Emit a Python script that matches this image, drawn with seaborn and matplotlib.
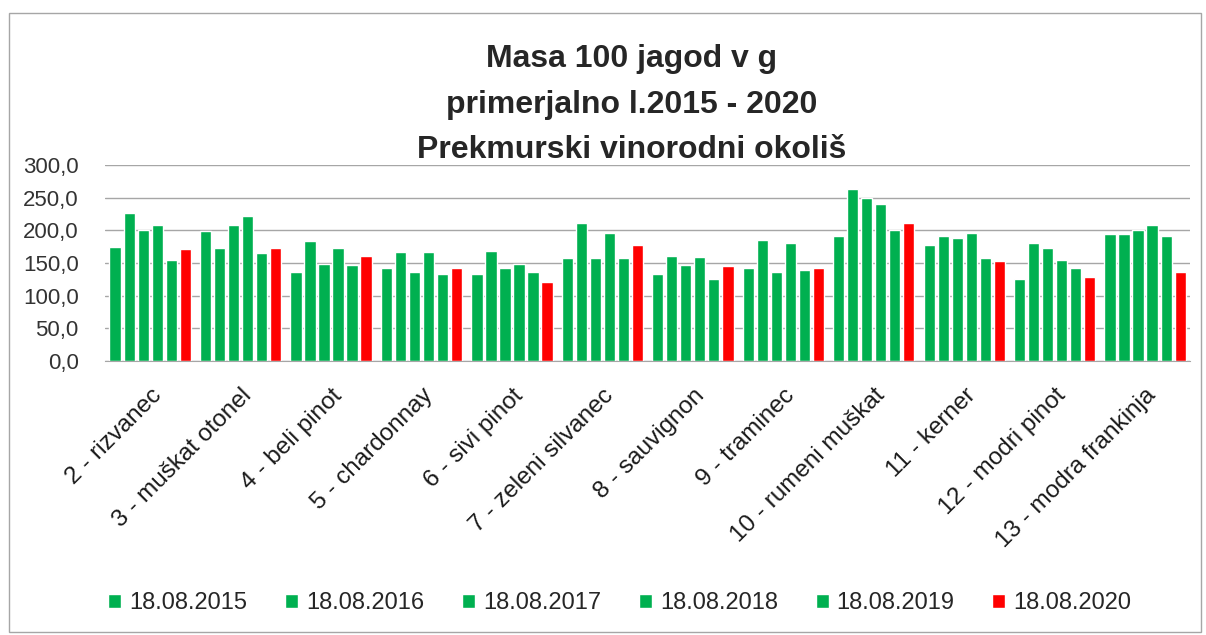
"""Masa 100 jagod v g - Prekmurski vinorodni okoliš, 2015-2020."""

import matplotlib.pyplot as plt
import pandas as pd
import seaborn as sns
from matplotlib.patches import Rectangle
from matplotlib.ticker import FuncFormatter, MultipleLocator

varieties = [
    "2 - rizvanec", "3 - muškat otonel", "4 - beli pinot", "5 - chardonnay",
    "6 - sivi pinot", "7 - zeleni silvanec", "8 - sauvignon", "9 - traminec",
    "10 - rumeni muškat", "11 - kerner", "12 - modri pinot", "13 - modra frankinja",
]
dates = ["18.08.2015", "18.08.2016", "18.08.2017", "18.08.2018", "18.08.2019", "18.08.2020"]

y2015 = [175, 199, 137, 143, 133, 157, 133, 143, 192, 177, 126, 194]
y2016 = [226, 173, 184, 167, 169, 212, 161, 186, 263, 192, 181, 194]
y2017 = [200, 208, 149, 137, 143, 157, 147, 137, 250, 188, 173, 200]
y2018 = [208, 222, 173, 167, 149, 196, 159, 181, 241, 196, 155, 208]
y2019 = [155, 165, 147, 133, 137, 157, 126, 140, 200, 157, 142, 191]
y2020 = [171, 173, 161, 143, 121, 177, 145, 142, 212, 153, 128, 137]

title_lines = ["Masa 100 jagod v g", "primerjalno l.2015 - 2020", "Prekmurski vinorodni okoliš"]

colors = ["#00B050"] * 5 + ["#FF0000"]

series = [y2015, y2016, y2017, y2018, y2019, y2020]
df = pd.DataFrame(
    [(v, d, val) for d, vals in zip(dates, series) for v, val in zip(varieties, vals)],
    columns=["sorta", "datum", "masa"],
)

sns.set_style("white")
plt.rcParams["font.family"] = ["Liberation Sans", "DejaVu Sans"]

fig = plt.figure(figsize=(12.06, 6.35), dpi=100)
ax = fig.add_axes([0.087, 0.4315, 0.9, 0.3085])

sns.barplot(
    data=df, x="sorta", y="masa", hue="datum", order=varieties, hue_order=dates,
    palette=colors, width=0.93, gap=0.2, saturation=1, ax=ax, legend=True,
)

ax.set_ylim(0, 300)
ax.yaxis.set_major_locator(MultipleLocator(50))
ax.yaxis.set_major_formatter(FuncFormatter(lambda v, _: f"{v:.1f}".replace(".", ",")))
ax.grid(axis="y", color="#A6A6A6", linewidth=1)
ax.set_axisbelow(True)
ax.set_xlim(-0.5, len(varieties) - 0.5)
ax.set_xlabel("")
ax.set_ylabel("")
for side in ["left", "right", "top"]:
    ax.spines[side].set_visible(False)
ax.spines["bottom"].set_color("#A6A6A6")
ax.tick_params(axis="y", labelsize=16, pad=19, length=0, colors="#333333")
ax.tick_params(axis="x", labelsize=17.5, length=0, pad=17, colors="#1a1a1a")
plt.setp(ax.get_xticklabels(), rotation=45, ha="right", rotation_mode="anchor")

handles, labels = ax.get_legend_handles_labels()
ax.legend_.remove()
fig.legend(
    handles, labels, loc="center", bbox_to_anchor=(0.514, 0.05), ncol=6,
    frameon=False, fontsize=17, handlelength=0.55, handleheight=0.55,
    handletextpad=0.34, columnspacing=1.6,
)

for i, line in enumerate(title_lines):
    fig.text(0.524, 1 - (67 + 45.5 * i) / 635, line, ha="center", va="baseline",
             fontsize=23, fontweight="bold")

fig.patches.append(Rectangle((0.0075, 0.005), 0.988, 0.975, transform=fig.transFigure,
                             fill=False, edgecolor="#A6A6A6", linewidth=1))

fig.savefig("out.png", dpi=100)
plt.close(fig)
